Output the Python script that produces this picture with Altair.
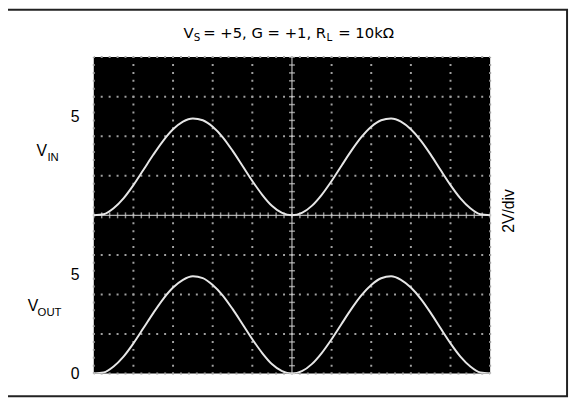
import altair as alt
import pandas as pd
import numpy as np

# ---- data ----
# time axis in screen divisions (10 div across), sampled every 0.25 div
t_div = [i * 0.25 for i in range(41)]
# input trace (V), offset to the screen centre line
v_in = [0.01, 0.06, 0.36, 0.86, 1.53, 2.29, 3.06, 3.77, 4.35, 4.74, 4.90,
        4.81, 4.48, 3.96, 3.27, 2.51, 1.74, 1.04, 0.47, 0.12, 0.00,
        0.12, 0.48, 1.04, 1.74, 2.51, 3.27, 3.95, 4.48, 4.81, 4.90,
        4.74, 4.35, 3.78, 3.07, 2.29, 1.53, 0.86, 0.36, 0.06, 0.01]
# output trace (V), referenced to the bottom of the screen
v_out = [0.01, 0.06, 0.36, 0.86, 1.53, 2.29, 3.06, 3.77, 4.35, 4.74, 4.92,
         4.83, 4.48, 3.96, 3.27, 2.51, 1.74, 1.04, 0.47, 0.12, 0.00,
         0.12, 0.48, 1.04, 1.74, 2.51, 3.27, 3.95, 4.48, 4.82, 4.92,
         4.74, 4.35, 3.78, 3.07, 2.29, 1.53, 0.86, 0.36, 0.06, 0.01]
VOLTS_PER_DIV = 2
IN_OFFSET_DIV = 4          # V_IN ground at the centre graticule line
y_label_values = [0, 5, 13]  # 0 V(out), 5 V(out), 5 V(in)

# ---- layout ----
W, H = 402, 321
X0, Y0 = 95, 55            # page position of plot origin (incl. 8px page margin)
FONT = "Liberation Sans"
TFONT = "DejaVu Sans"

xs = alt.Scale(domain=[0, 10], nice=False)
ys = alt.Scale(domain=[0, 16], nice=False)
yaxis = alt.Axis(values=y_label_values,
                 labelExpr="datum.value == 0 ? '0' : '5'",
                 tickSize=0, domain=False, grid=False, labelPadding=15,
                 labelFontSize=16, labelFont=FONT, labelColor="#000",
                 labelFontWeight="normal", title=None)

traces = pd.DataFrame({
    "t": t_div * 2,
    "v": v_in + v_out,
    "ch": ["in"] * len(t_div) + ["out"] * len(t_div),
})
traces["y"] = traces["v"] + np.where(traces["ch"] == "in",
                                     IN_OFFSET_DIV * VOLTS_PER_DIV, 0)

# graticule
vmaj = pd.DataFrame({"x": [1, 2, 3, 4, 6, 7, 8, 9, 0, 10]})
hmaj = pd.DataFrame({"y": [2, 4, 6, 10, 12, 14, 0, 16]})
dot_col = "#a0a0a0"
vgrid = alt.Chart(vmaj).mark_rule(color=dot_col, strokeWidth=2,
                                  strokeDash=[2, 6.025], strokeDashOffset=1).encode(
    x=alt.X("x:Q", scale=xs, axis=None), y=alt.value(0), y2=alt.value(H))
hgrid = alt.Chart(hmaj).mark_rule(color=dot_col, strokeWidth=2,
                                  strokeDash=[2, 6.04], strokeDashOffset=1).encode(
    y=alt.Y("y:Q", scale=ys, axis=yaxis), x=alt.value(0), x2=alt.value(W))

cx = alt.Chart(pd.DataFrame({"x": [5]})).mark_rule(color="#aaaaaa", strokeWidth=1.3).encode(
    x=alt.X("x:Q", scale=xs, axis=None), y=alt.value(0), y2=alt.value(H))
cy = alt.Chart(pd.DataFrame({"y": [8]})).mark_rule(color="#aaaaaa", strokeWidth=1.3).encode(
    y=alt.Y("y:Q", scale=ys, axis=yaxis), x=alt.value(0), x2=alt.value(W))

htk = pd.DataFrame({"x": np.round(np.arange(0, 10.01, 0.2), 2), "y": 8})
vtk = pd.DataFrame({"y": np.round(np.arange(0, 16.01, 0.4), 2), "x": 5})
ticks_h = alt.Chart(htk).mark_tick(orient="vertical", color="#d0d0d0", size=6, thickness=1.5).encode(
    x=alt.X("x:Q", scale=xs, axis=None), y=alt.Y("y:Q", scale=ys, axis=yaxis))
ticks_v = alt.Chart(vtk).mark_tick(orient="horizontal", color="#d0d0d0", size=6, thickness=1.5).encode(
    x=alt.X("x:Q", scale=xs, axis=None), y=alt.Y("y:Q", scale=ys, axis=yaxis))

lines = alt.Chart(traces).mark_line(color="#e6e6e6", strokeWidth=2,
                                    interpolate="monotone", clip=True).encode(
    x=alt.X("t:Q", scale=xs, axis=None),
    y=alt.Y("y:Q", scale=ys, axis=yaxis),
    detail="ch:N")


def txt(t, px, py, size, font=FONT, **kw):
    return alt.Chart().mark_text(font=font, fontSize=size, color="#000",
                                 align=kw.pop("align", "left"),
                                 baseline=kw.pop("baseline", "alphabetic"), **kw).encode(
        x=alt.value(px - X0), y=alt.value(py - Y0), text=alt.value(t))


pieces = [("V", 186, 36, 15, TFONT), ("S", 196.5, 39, 10.5, TFONT),
          ("= +5, G = +1, R", 206, 36, 15, TFONT), ("L", 331, 39, 10.5, TFONT),
          ("= 10kΩ", 343, 36, 15, TFONT),
          ("V", 37, 155, 16), ("IN", 48, 160, 11.5),
          ("V", 28, 313, 16), ("OUT", 38, 318, 11.5)]
texts = [txt(*p) for p in pieces]
texts.append(txt("2V/div", 516, 211, 16, align="center", baseline="middle", angle=270))

border = alt.Chart().mark_rect(fillOpacity=0, stroke="#222", strokeWidth=2).encode(
    x=alt.value(7 - X0), x2=alt.value(575 - X0), y=alt.value(7 - Y0), y2=alt.value(399 - Y0))

chart = alt.layer(vgrid, hgrid, cx, cy, ticks_h, ticks_v, lines, *texts, border).properties(
    width=W, height=H,
    autosize=alt.AutoSizeParams(type="none"),
    padding={"left": X0 - 8, "top": Y0 - 8, "right": 571 - (X0 - 8) - W,
             "bottom": 394 - (Y0 - 8) - H},
    background="#ffffff",
).configure_view(fill="#000000", stroke=None)

chart.save("out.html", embed_options={"renderer": "svg", "actions": False})
